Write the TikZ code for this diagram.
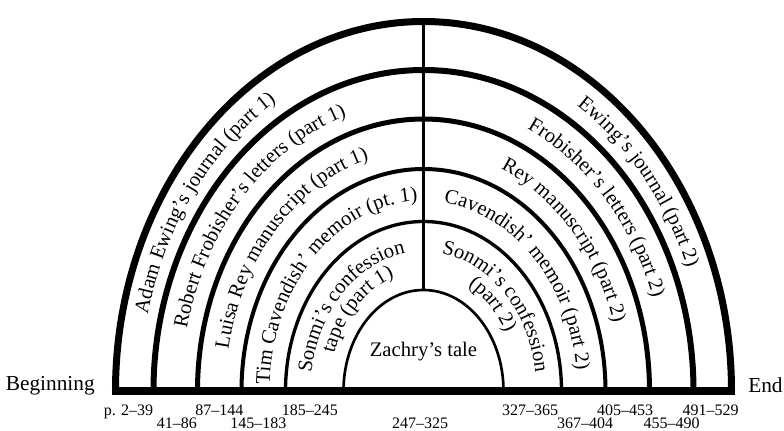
\documentclass[tikz,border=0pt]{standalone}
\usepackage{fontspec}
\setmainfont{Liberation Serif}
\usetikzlibrary{decorations.text}
\newcommand{\arcfont}{\fontsize{15.5}{18}\selectfont}
\newcommand{\sidefont}{\fontsize{16}{18}\selectfont}
\newcommand{\pagefont}{\fontsize{12}{13}\selectfont}

\begin{document}
\begin{tikzpicture}[x=0.75pt,y=0.75pt,
  part/.style={decorate,decoration={text along path,text align=center,text={|\arcfont|#1}}},
  pages/.style={anchor=base,inner sep=0pt,font=\pagefont}]
\useasboundingbox (-423.5,-39) rectangle (360.5,391);

% spine between the two halves
\draw[line width=2.6pt] (0,369.5) -- (0,101);

% nested shells
\draw[line width=5.25pt] (308,0) arc[start angle=0,end angle=180,x radius=308,y radius=369.5];
\draw[line width=4.5pt] (270,0) arc[start angle=0,end angle=180,x radius=270,y radius=321];
\draw[line width=3.75pt] (226,0) arc[start angle=0,end angle=180,x radius=226,y radius=272];
\draw[line width=3pt] (182,0) arc[start angle=0,end angle=180,x radius=182,y radius=222];
\draw[line width=2.5pt] (138,0) arc[start angle=0,end angle=180,x radius=138,y radius=169.5];
\draw[line width=2pt] (80,0) arc[start angle=0,end angle=180,x radius=80,y radius=101];

\draw[line width=6pt] (-311.5,0) -- (311.5,0);

% first halves
\path[part={Adam Ewing’s journal (part 1)}] (176:283 and 339) arc[start angle=176,end angle=111,x radius=283,y radius=339];
\path[part={Robert Frobisher’s letters (part 1)}] (179.5:242 and 290.5) arc[start angle=179.5,end angle=94.5,x radius=242,y radius=290.5];
\path[part={Luisa Rey manuscript (part 1)}] (179.5:198 and 241) arc[start angle=179.5,end angle=94.5,x radius=198,y radius=241];
\path[part={Tim Cavendish’ memoir (pt. 1)}] (179.5:154 and 190) arc[start angle=179.5,end angle=90.5,x radius=154,y radius=190];
\path[part={Sonmi’s confession}] (179.5:113 and 139.5) arc[start angle=179.5,end angle=90.5,x radius=113,y radius=139.5];
\path[part={tape (part 1)}] (170:94 and 120) arc[start angle=170,end angle=98,x radius=94,y radius=120];

% second halves
\path[part={Ewing’s journal (part 2)}] (70:283 and 339) arc[start angle=70,end angle=10,x radius=283,y radius=339];
\path[part={Frobisher’s letters (part 2)}] (86:242 and 290.5) arc[start angle=86,end angle=0.5,x radius=242,y radius=290.5];
\path[part={Rey manuscript (part 2)}] (86:198 and 241) arc[start angle=86,end angle=0.5,x radius=198,y radius=241];
\path[part={Cavendish’ memoir (part 2)}] (89.5:154 and 190) arc[start angle=89.5,end angle=0.5,x radius=154,y radius=190];
\path[part={Sonmi’s confession}] (89.5:113 and 139.5) arc[start angle=89.5,end angle=0.5,x radius=113,y radius=139.5];
\path[part={(part 2)}] (70:94 and 120) arc[start angle=70,end angle=22,x radius=94,y radius=120];

\node[font=\arcfont] (zachry) at (0,39) {Zachry’s tale};

\node[font=\sidefont,anchor=base east,inner sep=0pt] (begin) at (-328.5,1) {Beginning};
\node[font=\sidefont,anchor=base west,inner sep=0pt] (end) at (324.5,-1) {End};

% page ranges
\node[pages] (p1) at (-295,-24) {p. 2–39};
\node[pages] (p2) at (-246.5,-37) {41–86};
\node[pages] (p3) at (-204,-24) {87–144};
\node[pages] (p4) at (-165,-37) {145–183};
\node[pages] (p5) at (-113.5,-24) {185–245};
\node[pages] (p6) at (-3.5,-37) {247–325};
\node[pages] (p7) at (106.5,-24) {327–365};
\node[pages] (p8) at (161.5,-37) {367–404};
\node[pages] (p9) at (201.5,-24) {405–453};
\node[pages] (p10) at (248,-37) {455–490};
\node[pages] (p11) at (287,-24) {491–529};
\end{tikzpicture}
\end{document}
